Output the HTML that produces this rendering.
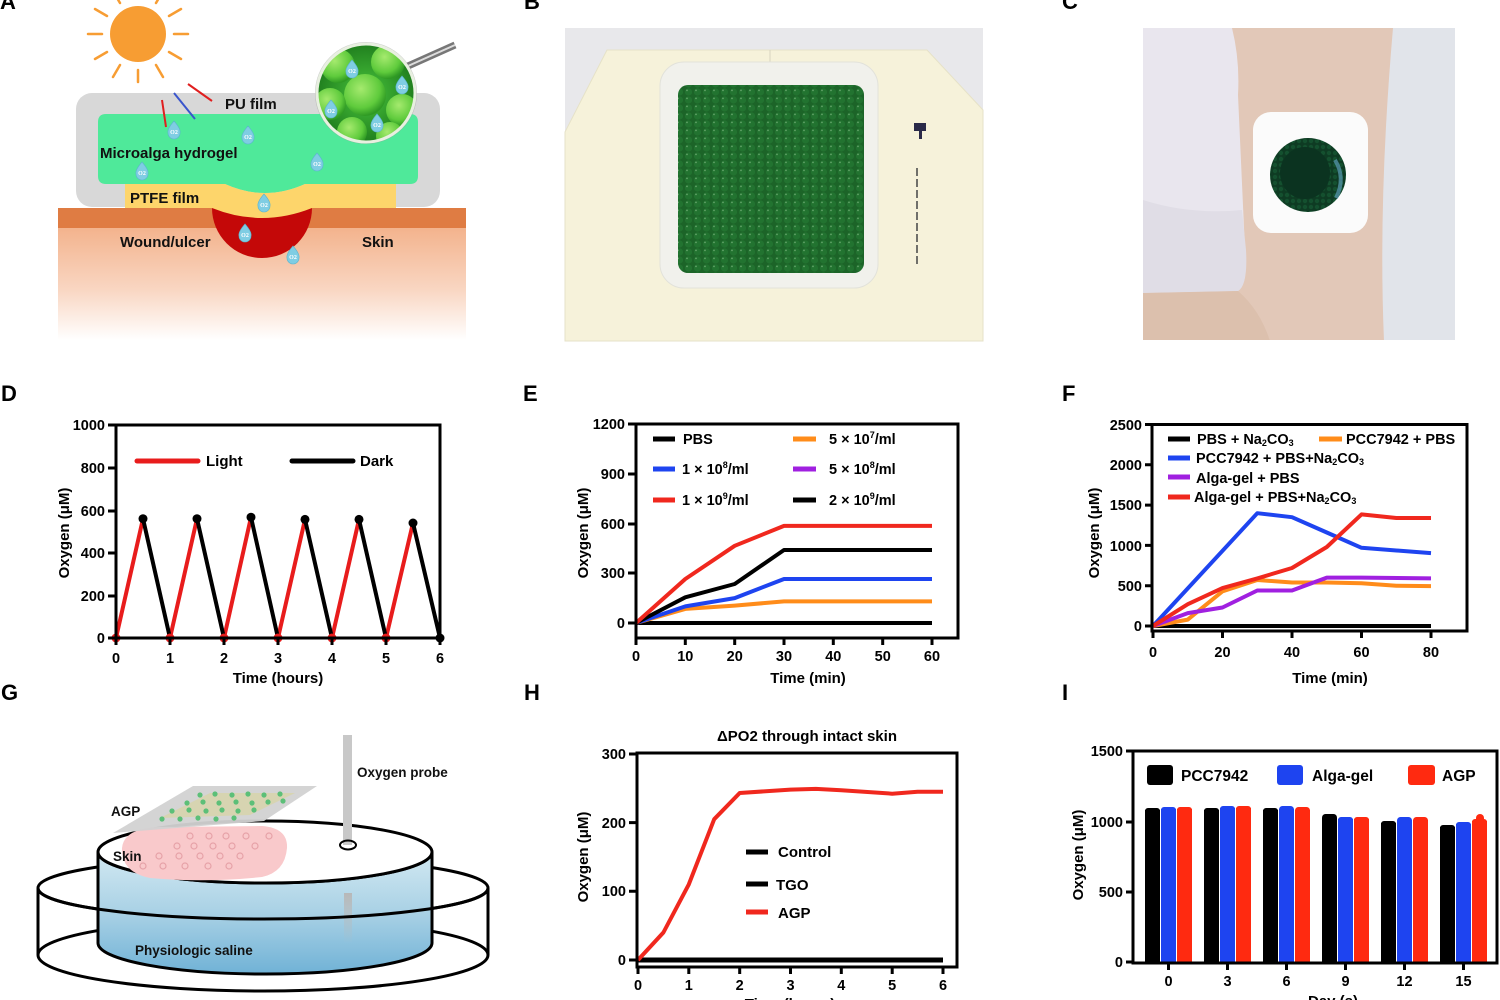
<!DOCTYPE html>
<html><head><meta charset="utf-8"><style>html,body{margin:0;padding:0;background:#fff;}svg{display:block;}</style></head>
<body>
<svg width="1500" height="1000" viewBox="0 0 1500 1000" xmlns="http://www.w3.org/2000/svg" font-family="Liberation Sans, Arial, sans-serif" font-weight="bold">
<defs>
<linearGradient id="skinG" x1="0" y1="0" x2="0" y2="1"><stop offset="0" stop-color="#f3b38d"/><stop offset="0.55" stop-color="#f9d6c2"/><stop offset="1" stop-color="#ffffff"/></linearGradient>
<radialGradient id="magG" cx="0.5" cy="0.5" r="0.55"><stop offset="0" stop-color="#49c43c"/><stop offset="1" stop-color="#1d7a1c"/></radialGradient>
<radialGradient id="bubG" cx="0.4" cy="0.35" r="0.65"><stop offset="0" stop-color="#a5ea6e"/><stop offset="0.7" stop-color="#5fcb3c"/><stop offset="1" stop-color="#2f9a24"/></radialGradient>
<linearGradient id="waterG" x1="0" y1="0" x2="0" y2="1"><stop offset="0" stop-color="#d2e9f2"/><stop offset="0.5" stop-color="#a9d1e5"/><stop offset="1" stop-color="#70b2d6"/></linearGradient>
<linearGradient id="probeG" x1="0" y1="0" x2="0" y2="1"><stop offset="0" stop-color="#b8b8b8"/><stop offset="1" stop-color="#b8b8b8" stop-opacity="0"/></linearGradient>
<pattern id="beads" width="9" height="8" patternUnits="userSpaceOnUse">
<rect width="9" height="8" fill="#1b6227"/>
<circle cx="4.5" cy="4" r="3.6" fill="#237632"/>
<circle cx="3" cy="2.4" r="0.9" fill="#8cc48e" opacity="0.8"/>
</pattern>
<pattern id="beads2" width="6" height="6" patternUnits="userSpaceOnUse">
<rect width="6" height="6" fill="#0e3b23"/>
<circle cx="3" cy="3" r="2.2" fill="#14502f"/>
</pattern>
<clipPath id="magClip"><circle cx="366" cy="93" r="48"/></clipPath>
<clipPath id="cClip"><rect x="1143" y="28" width="312" height="312"/></clipPath>
</defs>

<!-- Panel labels -->
<text x="0" y="9" font-size="22">A</text>
<text x="524" y="9" font-size="22">B</text>
<text x="1062" y="9" font-size="22">C</text>
<text x="1" y="401" font-size="22">D</text>
<text x="523" y="401" font-size="22">E</text>
<text x="1062" y="401" font-size="22">F</text>
<text x="1" y="700" font-size="22">G</text>
<text x="524" y="700" font-size="22">H</text>
<text x="1062" y="700" font-size="22">I</text>

<!-- ===== Panel A ===== -->
<g>
<rect x="58" y="228" width="408" height="112" fill="url(#skinG)"/>
<rect x="58" y="208" width="408" height="20" fill="#df7c43"/>
<path d="M212,208 A50,50 0 0 0 312,208 Z" fill="#c40808"/>
<rect x="76" y="93" width="364" height="114" rx="16" fill="#d8d8d8"/>
<path d="M106,114 H410 Q418,114 418,122 V176 Q418,184 410,184 H305 Q265,202 225,184 H106 Q98,184 98,176 V122 Q98,114 106,114 Z" fill="#4fe99a"/>
<path d="M125,184 H225 Q265,202 305,184 H396 V208 H312 Q262,228 212,208 H125 Z" fill="#fdd56b"/>
<!-- sun -->
<circle cx="138" cy="34" r="28" fill="#f79d33"/>
<g stroke="#f79d33" stroke-width="2.5" stroke-linecap="round">
<line x1="174" y1="34" x2="188" y2="34"/><line x1="102" y1="34" x2="88" y2="34"/>
<line x1="138" y1="70" x2="138" y2="82"/><line x1="138" y1="-2" x2="138" y2="-14"/>
<line x1="169" y1="52" x2="181" y2="59"/><line x1="107" y1="52" x2="95" y2="59"/>
<line x1="169" y1="16" x2="181" y2="9"/><line x1="107" y1="16" x2="95" y2="9"/>
<line x1="156" y1="65" x2="163" y2="77"/><line x1="120" y1="65" x2="113" y2="77"/>
<line x1="156" y1="3" x2="163" y2="-9"/><line x1="120" y1="3" x2="113" y2="-9"/>
</g>
<line x1="162" y1="100" x2="166" y2="127" stroke="#e01f1f" stroke-width="2"/>
<line x1="174" y1="93" x2="195" y2="119" stroke="#3a55cc" stroke-width="2"/>
<line x1="188" y1="84" x2="212" y2="101" stroke="#e01f1f" stroke-width="2"/>
<!-- magnifier -->
<line x1="408" y1="66" x2="455" y2="45" stroke="#777" stroke-width="7"/>
<line x1="408" y1="66" x2="455" y2="45" stroke="#ddd" stroke-width="2"/>
<circle cx="366" cy="93" r="51" fill="#9a9a9a" opacity="0.5"/>
<circle cx="366" cy="93" r="48" fill="url(#magG)"/>
<g clip-path="url(#magClip)">
<circle cx="338" cy="66" r="17" fill="url(#bubG)"/>
<circle cx="388" cy="62" r="17" fill="url(#bubG)"/>
<circle cx="365" cy="95" r="21" fill="url(#bubG)"/>
<circle cx="330" cy="104" r="16" fill="url(#bubG)"/>
<circle cx="402" cy="110" r="16" fill="url(#bubG)"/>
<circle cx="352" cy="132" r="15" fill="url(#bubG)"/>
<circle cx="390" cy="136" r="14" fill="url(#bubG)"/>
</g>
<circle cx="366" cy="93" r="49" fill="none" stroke="#e8f0e0" stroke-width="3"/>
<!-- O2 drops -->
<g fill="#7fcde3" stroke="#5bb5cf" stroke-width="0.6">
<path d="M174,121 Q181,129 180,133 A6,6 0 0 1 168,133 Q167,129 174,121 Z"/>
<path d="M248,126 Q255,134 254,138 A6,6 0 0 1 242,138 Q241,134 248,126 Z"/>
<path d="M142,162 Q149,170 148,174 A6,6 0 0 1 136,174 Q135,170 142,162 Z"/>
<path d="M317,153 Q324,161 323,165 A6,6 0 0 1 311,165 Q310,161 317,153 Z"/>
<path d="M264,194 Q271,202 270,206 A6,6 0 0 1 258,206 Q257,202 264,194 Z"/>
<path d="M245,224 Q252,232 251,236 A6,6 0 0 1 239,236 Q238,232 245,224 Z"/>
<path d="M293,246 Q300,254 299,258 A6,6 0 0 1 287,258 Q286,254 293,246 Z"/>
<path d="M352,60 Q359,68 358,72 A6,6 0 0 1 346,72 Q345,68 352,60 Z"/>
<path d="M402,76 Q409,84 408,88 A6,6 0 0 1 396,88 Q395,84 402,76 Z"/>
<path d="M331,100 Q338,108 337,112 A6,6 0 0 1 325,112 Q324,108 331,100 Z"/>
<path d="M377,114 Q384,122 383,126 A6,6 0 0 1 371,126 Q370,122 377,114 Z"/>
</g>
<g font-size="6" fill="#fff" font-family="Liberation Serif, serif" text-anchor="middle">
<text x="174" y="134">O2</text><text x="248" y="139">O2</text><text x="142" y="175">O2</text>
<text x="317" y="166">O2</text><text x="264" y="207">O2</text><text x="245" y="237">O2</text>
<text x="293" y="259">O2</text><text x="352" y="73">O2</text><text x="402" y="89">O2</text>
<text x="331" y="113">O2</text><text x="377" y="127">O2</text>
</g>
<g font-size="15" fill="#111">
<text x="225" y="109">PU film</text>
<text x="100" y="158">Microalga hydrogel</text>
<text x="130" y="203">PTFE film</text>
<text x="120" y="247">Wound/ulcer</text>
<text x="362" y="247">Skin</text>
</g>
</g>

<!-- ===== Panel B ===== -->
<g>
<rect x="565" y="28" width="418" height="313" fill="#e8e8eb"/>
<polygon points="607,50 927,50 983,110 983,341 565,341 565,132" fill="#f6f2da" stroke="#e6e2c8" stroke-width="1"/>
<line x1="770" y1="50" x2="770" y2="62" stroke="#d8d4c0" stroke-width="1"/>
<rect x="660" y="62" width="218" height="226" rx="24" fill="#f1f1ec" stroke="#e2e2da" stroke-width="1"/>
<rect x="678" y="85" width="186" height="188" rx="10" fill="url(#beads)"/>
<rect x="678" y="85" width="186" height="188" rx="10" fill="#1f6a2b" opacity="0.25"/>
<rect x="914" y="123" width="12" height="8" fill="#2a2a48"/>
<rect x="919" y="131" width="3" height="8" fill="#2a2a48"/>
<line x1="917" y1="168" x2="917" y2="265" stroke="#444" stroke-width="1.5" stroke-dasharray="8,3"/>
</g>

<!-- ===== Panel C ===== -->
<g clip-path="url(#cClip)">
<rect x="1143" y="28" width="312" height="312" fill="#e2c8b8"/>
<path d="M1143,28 L1232,28 Q1240,60 1238,95 L1245,250 Q1248,285 1238,291 L1143,293 Z" fill="#e9e6ee"/>
<path d="M1143,200 Q1190,215 1242,210 L1246,250 Q1248,285 1238,291 L1143,293 Z" fill="#e0dde6"/>
<path d="M1143,293 L1238,291 Q1260,310 1270,341 L1143,341 Z" fill="#dcc0ad"/>
<path d="M1393,28 L1455,28 L1455,341 L1384,341 Q1378,200 1393,28 Z" fill="#e1e4ea"/>
<rect x="1253" y="112" width="115" height="121" rx="18" fill="#fbfbfb"/>
<ellipse cx="1308" cy="175" rx="38" ry="37" fill="url(#beads2)"/>
<ellipse cx="1305" cy="173" rx="25" ry="26" fill="#0b3320"/>
<path d="M1335,160 Q1346,178 1336,198" stroke="#5a9bb5" stroke-width="4" fill="none" opacity="0.7"/>
</g>

<!-- ===== Panel D ===== -->
<g>
<g stroke-width="4" fill="none" stroke-linejoin="round">
<path d="M116,638L143,518.7M170,638L197,518.7M224,638L251,517.2M278,638L305,519.4M332,638L359,519.4M386,638L413,523" stroke="#e81c1c"/>
<path d="M143,518.7L170,638M197,518.7L224,638M251,517.2L278,638M305,519.4L332,638M359,519.4L386,638M413,523L440,638" stroke="#000"/>
</g>
<g fill="#000"><circle cx="143" cy="518.7" r="4.5"/><circle cx="197" cy="518.7" r="4.5"/><circle cx="251" cy="517.2" r="4.5"/><circle cx="305" cy="519.4" r="4.5"/><circle cx="359" cy="519.4" r="4.5"/><circle cx="413" cy="523" r="4.5"/><circle cx="440" cy="638" r="4.5"/></g>
<g fill="#e81c1c"><circle cx="116" cy="638" r="4.5"/><circle cx="170" cy="638" r="4.5"/><circle cx="224" cy="638" r="4.5"/><circle cx="278" cy="638" r="4.5"/><circle cx="332" cy="638" r="4.5"/><circle cx="386" cy="638" r="4.5"/></g>
<rect x="116" y="425" width="324" height="213" fill="none" stroke="#000" stroke-width="3"/>
<path d="M108,425H116M108,468H116M108,511H116M108,553H116M108,596H116M108,638H116M116,638V645M170,638V645M224,638V645M278,638V645M332,638V645M386,638V645M440,638V645" stroke="#000" stroke-width="3"/>
<g font-size="14.5" text-anchor="end">
<text x="105" y="430">1000</text><text x="105" y="473">800</text><text x="105" y="516">600</text><text x="105" y="558">400</text><text x="105" y="601">200</text><text x="105" y="643">0</text>
</g>
<g font-size="14.5" text-anchor="middle">
<text x="116" y="663">0</text><text x="170" y="663">1</text><text x="224" y="663">2</text><text x="278" y="663">3</text><text x="332" y="663">4</text><text x="386" y="663">5</text><text x="440" y="663">6</text>
</g>
<text x="278" y="683" font-size="15" text-anchor="middle">Time (hours)</text>
<text transform="translate(69,533) rotate(-90)" font-size="15" text-anchor="middle">Oxygen (μM)</text>
<line x1="137" y1="461" x2="198" y2="461" stroke="#e81c1c" stroke-width="5" stroke-linecap="round"/>
<text x="206" y="466" font-size="15">Light</text>
<line x1="292" y1="461" x2="353" y2="461" stroke="#000" stroke-width="5" stroke-linecap="round"/>
<text x="360" y="466" font-size="15">Dark</text>
</g>

<!-- ===== Panel E ===== -->
<g>
<g stroke-width="4" fill="none" stroke-linejoin="round">
<path d="M636,623H932" stroke="#000"/>
<path d="M636,623L685.3,608.9L734.7,605.6L784,601.4H932" stroke="#ff8c1a"/>
<path d="M636,623L685.3,606.4L734.7,598.1L784,579H932" stroke="#1e44f0"/>
<path d="M636,623L685.3,597.3L734.7,584L784,550H932" stroke="#000"/>
<path d="M636,623L685.3,579L734.7,545.8L784,525.9H932" stroke="#f0281e"/>
</g>
<rect x="636" y="424" width="322" height="214" fill="none" stroke="#000" stroke-width="3"/>
<path d="M628,424H636M628,474H636M628,524H636M628,573H636M628,623H636M636,638V645M685.3,638V645M734.7,638V645M784,638V645M833.3,638V645M882.7,638V645M932,638V645" stroke="#000" stroke-width="3"/>
<g font-size="14.5" text-anchor="end">
<text x="625" y="429">1200</text><text x="625" y="479">900</text><text x="625" y="529">600</text><text x="625" y="578">300</text><text x="625" y="628">0</text>
</g>
<g font-size="14.5" text-anchor="middle">
<text x="636" y="661">0</text><text x="685.3" y="661">10</text><text x="734.7" y="661">20</text><text x="784" y="661">30</text><text x="833.3" y="661">40</text><text x="882.7" y="661">50</text><text x="932" y="661">60</text>
</g>
<text x="808" y="683" font-size="15" text-anchor="middle">Time (min)</text>
<text transform="translate(588,533) rotate(-90)" font-size="15" text-anchor="middle">Oxygen (μM)</text>
<g stroke-width="5">
<line x1="653" y1="439" x2="675" y2="439" stroke="#000"/>
<line x1="793" y1="439" x2="816" y2="439" stroke="#ff8c1a"/>
<line x1="653" y1="469" x2="675" y2="469" stroke="#1e44f0"/>
<line x1="793" y1="469" x2="816" y2="469" stroke="#a020e0"/>
<line x1="653" y1="500" x2="675" y2="500" stroke="#f0281e"/>
<line x1="793" y1="500" x2="816" y2="500" stroke="#000"/>
</g>
<g font-size="14.5">
<text x="683" y="444">PBS</text>
<text x="829" y="444">5 × 10<tspan dy="-6" font-size="9">7</tspan><tspan dy="6">/ml</tspan></text>
<text x="682" y="474">1 × 10<tspan dy="-6" font-size="9">8</tspan><tspan dy="6">/ml</tspan></text>
<text x="829" y="474">5 × 10<tspan dy="-6" font-size="9">8</tspan><tspan dy="6">/ml</tspan></text>
<text x="682" y="505">1 × 10<tspan dy="-6" font-size="9">9</tspan><tspan dy="6">/ml</tspan></text>
<text x="829" y="505">2 × 10<tspan dy="-6" font-size="9">9</tspan><tspan dy="6">/ml</tspan></text>
</g>
</g>

<!-- ===== Panel F ===== -->
<g>
<g stroke-width="4" fill="none" stroke-linejoin="round">
<path d="M1153,626H1431" stroke="#000"/>
<path d="M1153,626L1187.8,619.6L1222.5,591.3L1257.3,580L1292,582.5L1326.8,582.5L1361.5,583.3L1396.3,585.7L1431,586.1" stroke="#ff8c1a"/>
<path d="M1153,626L1187.8,613.1L1222.5,607.5L1257.3,590.5L1292,590.5L1326.8,577.6L1361.5,577.6L1431,578.4" stroke="#a020e0"/>
<path d="M1153,626L1257.3,513.2L1292,517.2L1326.8,532.5L1361.5,547.8L1431,553.1" stroke="#1e44f0"/>
<path d="M1153,626L1187.8,604.2L1222.5,588.1L1257.3,578.4L1292,568L1326.8,547L1361.5,514.4L1396.3,518L1431,518" stroke="#f0281e"/>
</g>
<rect x="1152" y="424.5" width="315" height="206.5" fill="none" stroke="#000" stroke-width="3"/>
<path d="M1145,424.5H1152M1145,464.8H1152M1145,505.1H1152M1145,545.4H1152M1145,585.7H1152M1145,626H1152M1153,631V638M1222.5,631V638M1292,631V638M1361.5,631V638M1431,631V638" stroke="#000" stroke-width="3"/>
<g font-size="14.5" text-anchor="end">
<text x="1142" y="430">2500</text><text x="1142" y="470">2000</text><text x="1142" y="510">1500</text><text x="1142" y="551">1000</text><text x="1142" y="591">500</text><text x="1142" y="631">0</text>
</g>
<g font-size="14.5" text-anchor="middle">
<text x="1153" y="657">0</text><text x="1222.5" y="657">20</text><text x="1292" y="657">40</text><text x="1361.5" y="657">60</text><text x="1431" y="657">80</text>
</g>
<text x="1330" y="683" font-size="15" text-anchor="middle">Time (min)</text>
<text transform="translate(1099,533) rotate(-90)" font-size="15" text-anchor="middle">Oxygen (μM)</text>
<g stroke-width="5">
<line x1="1168" y1="439" x2="1190" y2="439" stroke="#000"/>
<line x1="1319" y1="439" x2="1342" y2="439" stroke="#ff8c1a"/>
<line x1="1168" y1="458" x2="1190" y2="458" stroke="#1e44f0"/>
<line x1="1168" y1="477" x2="1190" y2="477" stroke="#a020e0"/>
<line x1="1168" y1="497" x2="1190" y2="497" stroke="#f0281e"/>
</g>
<g font-size="14.5">
<text x="1197" y="444">PBS + Na<tspan font-size="9" dy="2">2</tspan><tspan dy="-2">CO</tspan><tspan font-size="9" dy="2">3</tspan></text>
<text x="1346" y="444">PCC7942 + PBS</text>
<text x="1196" y="463">PCC7942 + PBS+Na<tspan font-size="9" dy="2">2</tspan><tspan dy="-2">CO</tspan><tspan font-size="9" dy="2">3</tspan></text>
<text x="1196" y="483">Alga-gel + PBS</text>
<text x="1194" y="502">Alga-gel + PBS+Na<tspan font-size="9" dy="2">2</tspan><tspan dy="-2">CO</tspan><tspan font-size="9" dy="2">3</tspan></text>
</g>
</g>

<!-- ===== Panel G ===== -->
<g>
<ellipse cx="263" cy="955" rx="225" ry="36" fill="none" stroke="#000" stroke-width="3"/>
<ellipse cx="263" cy="888" rx="225" ry="31" fill="none" stroke="#000" stroke-width="3"/>
<line x1="38" y1="888" x2="38" y2="955" stroke="#000" stroke-width="3"/>
<line x1="488" y1="888" x2="488" y2="955" stroke="#000" stroke-width="3"/>
<path d="M98,852 A167,31 0 0 0 432,852 V943 A167,31 0 0 1 98,943 Z" fill="url(#waterG)" stroke="#000" stroke-width="3"/>
<rect x="344" y="893" width="8" height="50" fill="url(#probeG)"/>
<path d="M38,888 A225,31 0 0 0 488,888" fill="none" stroke="#000" stroke-width="3"/>
<ellipse cx="265" cy="852" rx="167" ry="31" fill="#fff" stroke="#000" stroke-width="3"/>
<rect x="343" y="735" width="9" height="110" fill="#c8c8c8"/>
<ellipse cx="348" cy="845" rx="8" ry="4.5" fill="none" stroke="#000" stroke-width="2"/>
<path d="M122,848 Q124,828 160,827 L262,826 Q288,828 287,848 Q285,872 262,877 Q205,883 150,878 Q121,872 122,848 Z" fill="#f9c9cb"/>
<g fill="none" stroke="#e6a2a8" stroke-width="1.2">
<circle cx="190" cy="836" r="3"/><circle cx="209" cy="836" r="3"/><circle cx="226" cy="836" r="3"/><circle cx="246" cy="836" r="3"/><circle cx="269" cy="836" r="3"/>
<circle cx="177" cy="846" r="3"/><circle cx="194" cy="846" r="3"/><circle cx="213" cy="846" r="3"/><circle cx="232" cy="846" r="3"/><circle cx="255" cy="846" r="3"/>
<circle cx="159" cy="856" r="3"/><circle cx="179" cy="856" r="3"/><circle cx="200" cy="856" r="3"/><circle cx="220" cy="856" r="3"/><circle cx="240" cy="856" r="3"/>
<circle cx="143" cy="866" r="3"/><circle cx="163" cy="866" r="3"/><circle cx="185" cy="866" r="3"/><circle cx="208" cy="866" r="3"/><circle cx="229" cy="866" r="3"/>
</g>
<polygon points="113,833 193,786 317,786 264,821" fill="#d2d2d2" opacity="0.95"/>
<polygon points="160,818 210,793 295,793 250,815" fill="#d9d39a" opacity="0.6"/>
<g fill="#5cbf78">
<circle cx="200" cy="795" r="2.6"/><circle cx="215" cy="794" r="2.6"/><circle cx="232" cy="795" r="2.6"/><circle cx="248" cy="794" r="2.6"/><circle cx="264" cy="795" r="2.6"/><circle cx="280" cy="794" r="2.6"/>
<circle cx="187" cy="803" r="2.6"/><circle cx="203" cy="802" r="2.6"/><circle cx="219" cy="803" r="2.6"/><circle cx="236" cy="802" r="2.6"/><circle cx="252" cy="803" r="2.6"/><circle cx="268" cy="802" r="2.6"/><circle cx="283" cy="801" r="2.6"/>
<circle cx="172" cy="811" r="2.6"/><circle cx="189" cy="810" r="2.6"/><circle cx="206" cy="811" r="2.6"/><circle cx="222" cy="810" r="2.6"/><circle cx="238" cy="811" r="2.6"/><circle cx="254" cy="810" r="2.6"/>
<circle cx="162" cy="819" r="2.6"/><circle cx="180" cy="819" r="2.6"/><circle cx="198" cy="818" r="2.6"/><circle cx="216" cy="819" r="2.6"/><circle cx="234" cy="818" r="2.6"/>
</g>
<g font-size="13.5" fill="#111">
<text x="111" y="816">AGP</text>
<text x="113" y="861">Skin</text>
<text x="357" y="777">Oxygen probe</text>
<text x="135" y="955">Physiologic saline</text>
</g>
</g>

<!-- ===== Panel H ===== -->
<g>
<path d="M638,960H943" stroke="#000" stroke-width="5"/>
<path d="M638,960L663.4,932.5L688.8,884.4L714.2,819.2L739.7,793L790.5,789.6L815.9,788.9L841.3,790.3L892.2,793.7L917.6,791.7L943,791.7" stroke="#f0281e" stroke-width="4" fill="none" stroke-linejoin="round"/>
<rect x="637" y="753" width="320" height="214" fill="none" stroke="#000" stroke-width="3"/>
<path d="M629,754H637M629,822.6H637M629,891.3H637M629,960H637M638,967V974M688.8,967V974M739.7,967V974M790.5,967V974M841.3,967V974M892.2,967V974M943,967V974" stroke="#000" stroke-width="3"/>
<g font-size="14.5" text-anchor="end">
<text x="626" y="759">300</text><text x="626" y="828">200</text><text x="626" y="896">100</text><text x="626" y="965">0</text>
</g>
<g font-size="14.5" text-anchor="middle">
<text x="638" y="990">0</text><text x="688.8" y="990">1</text><text x="739.7" y="990">2</text><text x="790.5" y="990">3</text><text x="841.3" y="990">4</text><text x="892.2" y="990">5</text><text x="943" y="990">6</text>
</g>
<text x="790" y="1009" font-size="15" text-anchor="middle">Time (hours)</text>
<text x="807" y="741" font-size="15" text-anchor="middle">ΔPO2 through intact skin</text>
<text transform="translate(588,857) rotate(-90)" font-size="15" text-anchor="middle">Oxygen (μM)</text>
<g stroke-width="5">
<line x1="746" y1="852" x2="768" y2="852" stroke="#000"/>
<line x1="746" y1="884" x2="768" y2="884" stroke="#000"/>
<line x1="746" y1="912" x2="768" y2="912" stroke="#f0281e"/>
</g>
<g font-size="15">
<text x="778" y="857">Control</text><text x="776" y="890">TGO</text><text x="778" y="918">AGP</text>
</g>
</g>

<!-- ===== Panel I ===== -->
<g>
<g fill="#000">
<rect x="1145" y="810" width="15" height="152"/><rect x="1145" y="808" width="15" height="6" rx="3"/>
<rect x="1204" y="810" width="15" height="152"/><rect x="1204" y="808" width="15" height="6" rx="3"/>
<rect x="1263" y="810" width="15" height="152"/><rect x="1263" y="808" width="15" height="6" rx="3"/>
<rect x="1322" y="818" width="15" height="144"/><rect x="1322" y="814" width="15" height="7" rx="3.5"/>
<rect x="1381" y="823" width="15" height="139"/><rect x="1381" y="821" width="15" height="6" rx="3"/>
<rect x="1440" y="827" width="15" height="135"/><rect x="1440" y="825" width="15" height="6" rx="3"/>
</g>
<g fill="#1e44f0">
<rect x="1161" y="809" width="15" height="153"/><rect x="1161" y="807" width="15" height="6" rx="3"/>
<rect x="1220" y="808" width="15" height="154"/><rect x="1220" y="806" width="15" height="6" rx="3"/>
<rect x="1279" y="809" width="15" height="153"/><rect x="1279" y="806" width="15" height="7" rx="3.5"/>
<rect x="1338" y="819" width="15" height="143"/><rect x="1338" y="817" width="15" height="6" rx="3"/>
<rect x="1397" y="820" width="15" height="142"/><rect x="1397" y="817" width="15" height="7" rx="3.5"/>
<rect x="1456" y="824" width="15" height="138"/><rect x="1456" y="822" width="15" height="6" rx="3"/>
</g>
<g fill="#ff2a10">
<rect x="1177" y="809" width="15" height="153"/><rect x="1177" y="807" width="15" height="6" rx="3"/>
<rect x="1236" y="808" width="15" height="154"/><rect x="1236" y="806" width="15" height="6" rx="3"/>
<rect x="1295" y="810" width="15" height="152"/><rect x="1295" y="807" width="15" height="7" rx="3.5"/>
<rect x="1354" y="819" width="15" height="143"/><rect x="1354" y="817" width="15" height="6" rx="3"/>
<rect x="1413" y="820" width="15" height="142"/><rect x="1413" y="817" width="15" height="7" rx="3.5"/>
<rect x="1472" y="821" width="15" height="141"/><rect x="1476" y="814" width="8" height="10" rx="4"/><rect x="1472" y="819" width="15" height="6" rx="3"/>
</g>
<rect x="1133" y="751" width="364" height="212" fill="none" stroke="#000" stroke-width="3"/>
<path d="M1126,751H1133M1126,822H1133M1126,892H1133M1126,962H1133M1168.5,963V970M1227.5,963V970M1286.5,963V970M1345.5,963V970M1404.5,963V970M1463.5,963V970" stroke="#000" stroke-width="3"/>
<g font-size="14.5" text-anchor="end">
<text x="1123" y="756">1500</text><text x="1123" y="827">1000</text><text x="1123" y="897">500</text><text x="1123" y="967">0</text>
</g>
<g font-size="14.5" text-anchor="middle">
<text x="1168.5" y="986">0</text><text x="1227.5" y="986">3</text><text x="1286.5" y="986">6</text><text x="1345.5" y="986">9</text><text x="1404.5" y="986">12</text><text x="1463.5" y="986">15</text>
</g>
<text x="1333" y="1006" font-size="15" text-anchor="middle">Day (s)</text>
<text transform="translate(1083,855) rotate(-90)" font-size="15" text-anchor="middle">Oxygen (μM)</text>
<rect x="1147" y="765" width="26" height="20" rx="3" fill="#000"/>
<rect x="1277" y="765" width="26" height="20" rx="3" fill="#1e44f0"/>
<rect x="1408" y="765" width="27" height="20" rx="3" fill="#ff2a10"/>
<g font-size="15.5">
<text x="1181" y="781">PCC7942</text><text x="1312" y="781">Alga-gel</text><text x="1442" y="781">AGP</text>
</g>
</g>
</svg>
</body></html>
